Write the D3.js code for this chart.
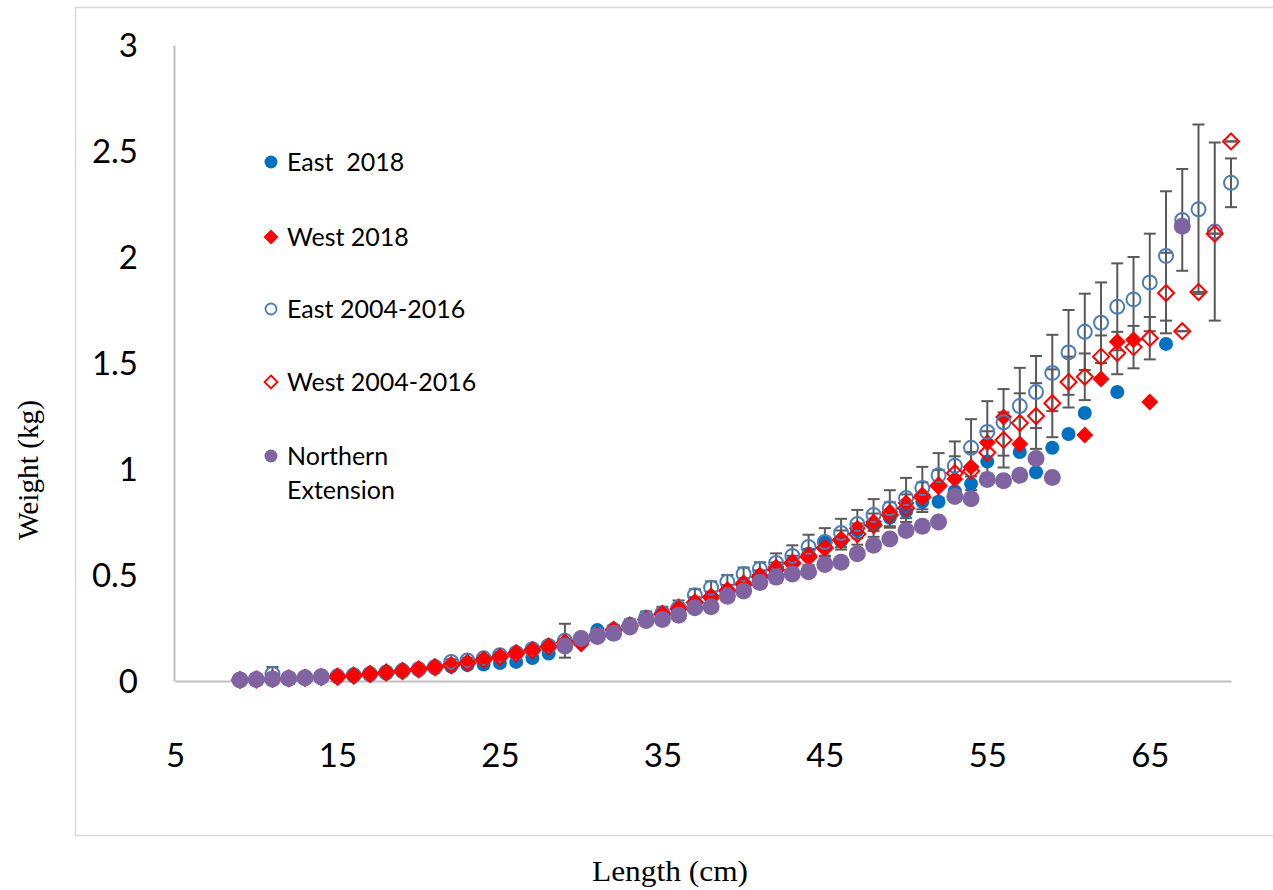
<!DOCTYPE html>
<html>
<head>
<meta charset="utf-8">
<script src="https://cdn.jsdelivr.net/npm/d3@7"></script>
<style>
  body { margin: 0; background: #fff; }
  svg { display: block; }
</style>
</head>
<body>
<div class="wrapper"></div>
<script>
// fork length (cm), one entry per centimetre 9..70
const lengths = [9,
  10, 11, 12, 13, 14, 15, 16, 17, 18, 19,
  20, 21, 22, 23, 24, 25, 26, 27, 28, 29,
  30, 31, 32, 33, 34, 35, 36, 37, 38, 39,
  40, 41, 42, 43, 44, 45, 46, 47, 48, 49,
  50, 51, 52, 53, 54, 55, 56, 57, 58, 59,
  60, 61, 62, 63, 64, 65, 66, 67, 68, 69,
  70];

const east2018 = [0.005,
  0.007, 0.01, 0.012, 0.015, 0.018, 0.022, 0.026, 0.032, 0.038, 0.045,
  0.052, 0.06, 0.068, 0.075, 0.078, 0.085, 0.09, 0.108, 0.13, 0.17,
  0.19, 0.24, 0.235, 0.26, 0.29, 0.31, 0.34, 0.37, 0.39, 0.42,
  0.45, 0.49, 0.52, 0.56, 0.6, 0.655, 0.66, 0.71, 0.74, 0.77,
  0.80, 0.845, 0.845, 0.895, 0.93, 1.035, null, 1.08, 0.985, 1.10,
  1.165, 1.264, null, 1.363, null, null, 1.59, null, null, null,
  null];

const west2018 = [0.005,
  0.007, 0.01, 0.012, 0.015, 0.018, 0.02, 0.025, 0.033, 0.04, 0.047,
  0.055, 0.065, 0.071, 0.085, 0.103, 0.115, 0.135, 0.147, 0.165, 0.185,
  0.175, 0.217, 0.245, 0.265, 0.29, 0.32, 0.35, 0.373, 0.40, 0.43,
  0.463, 0.50, 0.538, 0.56, 0.594, 0.627, 0.665, 0.72, 0.75, 0.797,
  0.84, 0.877, 0.925, 0.953, 1.01, 1.125, 1.245, 1.118, null, null,
  null, 1.16, 1.425, 1.6, 1.61, 1.316, null, null, null, null,
  null];

const east0416 = [0.005,
  0.008, 0.033, 0.012, 0.015, 0.018, 0.022, 0.027, 0.033, 0.04, 0.048,
  0.056, 0.066, 0.09, 0.097, 0.107, 0.122, 0.132, 0.15, 0.165, 0.19,
  0.2, 0.22, 0.24, 0.265, 0.3, 0.32, 0.345, 0.405, 0.44, 0.468,
  0.505, 0.528, 0.557, 0.59, 0.632, 0.656, 0.698, 0.74, 0.783, 0.815,
  0.863, 0.91, 0.97, 1.015, 1.10, 1.175, 1.22, 1.297, 1.363, 1.453,
  1.55, 1.647, 1.69, 1.765, 1.80, 1.88, 2.005, 2.175, 2.225, 2.12,
  2.35];

const east0416Err = [0.003,
  0.004, 0.033, 0.005, 0.005, 0.006, 0.006, 0.007, 0.008, 0.008, 0.01,
  0.01, 0.012, 0.012, 0.013, 0.014, 0.015, 0.016, 0.018, 0.02, 0.08,
  0.02, 0.022, 0.024, 0.025, 0.028, 0.03, 0.035, 0.028, 0.03, 0.032,
  0.03, 0.032, 0.045, 0.05, 0.058, 0.065, 0.067, 0.067, 0.075, 0.085,
  0.095, 0.10, 0.105, 0.115, 0.135, 0.145, 0.157, 0.18, 0.17, 0.18,
  0.2, 0.18, 0.19, 0.205, 0.2, 0.23, 0.305, 0.24, 0.40, 0.42,
  0.115];

const west0416 = [0.005,
  0.007, 0.01, 0.012, 0.015, 0.018, 0.02, 0.025, 0.033, 0.04, 0.047,
  0.055, 0.065, 0.075, 0.085, 0.1, 0.113, 0.13, 0.145, 0.162, 0.18,
  0.19, 0.215, 0.24, 0.26, 0.29, 0.315, 0.34, 0.37, 0.395, 0.425,
  0.455, 0.49, 0.525, 0.555, 0.585, 0.627, 0.665, 0.693, 0.735, 0.783,
  0.815, 0.867, 0.92, 0.98, 0.99, 1.078, 1.137, 1.217, 1.25, 1.31,
  1.41, 1.435, 1.53, 1.547, 1.575, 1.617, 1.83, 1.65, 1.835, 2.11,
  2.545];

const west0416Err = [0.002,
  0.003, 0.003, 0.004, 0.004, 0.005, 0.005, 0.006, 0.006, 0.007, 0.008,
  0.008, 0.009, 0.01, 0.01, 0.011, 0.012, 0.013, 0.014, 0.015, 0.016,
  0.017, 0.018, 0.019, 0.02, 0.02, 0.022, 0.024, 0.025, 0.027, 0.028,
  0.03, 0.032, 0.034, 0.036, 0.038, 0.04, 0.045, 0.05, 0.055, 0.06,
  0.065, 0.07, 0.075, 0.08, 0.09, 0.1, 0.13, 0.14, 0.155, 0.16,
  0.12, 0.11, 0.1, 0.1, 0.1, 0.1, 0.19, 0, 0, 0,
  0];

const northern = [0.005,
  0.007, 0.01, 0.012, 0.015, 0.02, null, null, null, null, null,
  null, null, null, null, null, null, null, null, null, 0.165,
  0.2, 0.21, 0.225, 0.255, 0.285, 0.29, 0.31, 0.345, 0.35, 0.40,
  0.425, 0.465, 0.49, 0.505, 0.515, 0.55, 0.56, 0.6, 0.64, 0.67,
  0.71, 0.73, 0.75, 0.87, 0.86, 0.95, 0.945, 0.97, 1.05, 0.96,
  null, null, null, null, null, null, null, 2.145, null, null,
  null];

const xTicks = [5, 15, 25, 35, 45, 55, 65];
const yTicks = [0, 0.5, 1, 1.5, 2, 2.5, 3];

const width = 1273, height = 890;

const svg = d3.select(".wrapper")
  .append("svg")
  .attr("width", width)
  .attr("height", height);

// chart area border
svg.append("rect")
  .attr("x", 75.5).attr("y", 7.5)
  .attr("width", 1220).attr("height", 828)
  .attr("fill", "none")
  .attr("stroke", "#d9d9d9")
  .attr("stroke-width", 1.5);

const x = d3.scaleLinear().domain([5, 70]).range([175, 1231]);
const y = d3.scaleLinear().domain([0, 3]).range([681, 45]);

const tickFont = "Lato, 'Open Sans', sans-serif";

svg.append("g")
  .attr("transform", "translate(0,681)")
  .call(d3.axisBottom(x).tickValues(xTicks).tickSize(0).tickFormat(d3.format("d")))
  .call(g => g.select(".domain").attr("stroke", "#bfbfbf").attr("stroke-width", 2))
  .call(g => g.selectAll("text")
    .attr("y", 86).attr("dy", null)
    .attr("fill", "#000")
    .style("font-family", tickFont)
    .style("font-size", "33px"));

svg.append("g")
  .attr("transform", "translate(174,0)")
  .call(d3.axisLeft(y).tickValues(yTicks).tickSize(0).tickFormat(d => String(d)))
  .call(g => g.select(".domain").attr("stroke", "#bfbfbf").attr("stroke-width", 2))
  .call(g => g.selectAll("text")
    .attr("x", -36).attr("dy", "0.36em")
    .attr("fill", "#000")
    .style("font-family", tickFont)
    .style("font-size", "33px"));

// axis titles
svg.append("text")
  .attr("transform", "translate(38,470) rotate(-90)")
  .attr("text-anchor", "middle")
  .attr("textLength", 140)
  .attr("lengthAdjust", "spacingAndGlyphs")
  .style("font-family", "'Liberation Serif', 'Times New Roman', serif")
  .style("font-size", "30px")
  .text("Weight (kg)");

svg.append("text")
  .attr("x", 670).attr("y", 881)
  .attr("text-anchor", "middle")
  .attr("textLength", 156)
  .attr("lengthAdjust", "spacingAndGlyphs")
  .style("font-family", "'Liberation Serif', 'Times New Roman', serif")
  .style("font-size", "30px")
  .text("Length (cm)");

const diamond = s => "M0," + (-s) + "L" + s + ",0L0," + s + "L" + (-s) + ",0Z";

const rows = (vals, errs) => lengths
  .map((L, i) => ({ L: L, v: vals[i], e: errs ? errs[i] : 0 }))
  .filter(d => d.v != null);

//////////////////////////
////// ERROR BARS ////////
//////////////////////////

const bars = svg.append("g").attr("stroke", "#595959").attr("stroke-width", 2);

[[east0416, east0416Err], [west0416, west0416Err]].forEach(([vals, errs]) => {
  const d = rows(vals, errs);
  bars.selectAll(null).data(d).enter().append("line")
    .attr("x1", r => x(r.L)).attr("x2", r => x(r.L))
    .attr("y1", r => y(r.v - r.e)).attr("y2", r => y(r.v + r.e));
  bars.selectAll(null).data(d).enter().append("line")
    .attr("x1", r => x(r.L) - 6).attr("x2", r => x(r.L) + 6)
    .attr("y1", r => y(r.v + r.e)).attr("y2", r => y(r.v + r.e));
  bars.selectAll(null).data(d).enter().append("line")
    .attr("x1", r => x(r.L) - 6).attr("x2", r => x(r.L) + 6)
    .attr("y1", r => y(r.v - r.e)).attr("y2", r => y(r.v - r.e));
});

//////////////////////////
//////// MARKERS /////////
//////////////////////////

svg.append("g").selectAll("circle")
  .data(rows(east2018)).enter().append("circle")
  .attr("cx", d => x(d.L)).attr("cy", d => y(d.v))
  .attr("r", 7).attr("fill", "#0070c0");

svg.append("g").selectAll("path")
  .data(rows(west2018)).enter().append("path")
  .attr("d", diamond(8.5))
  .attr("transform", d => "translate(" + x(d.L) + "," + y(d.v) + ")")
  .attr("fill", "#ff0000");

svg.append("g").selectAll("circle")
  .data(rows(east0416)).enter().append("circle")
  .attr("cx", d => x(d.L)).attr("cy", d => y(d.v))
  .attr("r", 7).attr("fill", "none")
  .attr("stroke", "#4a7ebb").attr("stroke-width", 2);

svg.append("g").selectAll("path")
  .data(rows(west0416)).enter().append("path")
  .attr("d", diamond(8))
  .attr("transform", d => "translate(" + x(d.L) + "," + y(d.v) + ")")
  .attr("fill", "none")
  .attr("stroke", "#ff0000").attr("stroke-width", 2);

svg.append("g").selectAll("circle")
  .data(rows(northern)).enter().append("circle")
  .attr("cx", d => x(d.L)).attr("cy", d => y(d.v))
  .attr("r", 8.5).attr("fill", "#8064a2");

//////////////////////////
//////// LEGEND //////////
//////////////////////////

const legendFont = "Lato, 'Open Sans', sans-serif";
const legend = svg.append("g").attr("class", "legend");
const items = [
  { label: ["East  2018"], y: 162, kind: "dot", color: "#0070c0" },
  { label: ["West 2018"], y: 237, kind: "dia", color: "#ff0000" },
  { label: ["East 2004-2016"], y: 309, kind: "ring", color: "#4a7ebb" },
  { label: ["West 2004-2016"], y: 382, kind: "odia", color: "#ff0000" },
  { label: ["Northern", "Extension"], y: 456, kind: "dot", color: "#8064a2" }
];

items.forEach(it => {
  if (it.kind === "dot") {
    legend.append("circle").attr("cx", 271).attr("cy", it.y).attr("r", 6.5).attr("fill", it.color);
  } else if (it.kind === "ring") {
    legend.append("circle").attr("cx", 271).attr("cy", it.y).attr("r", 5.5)
      .attr("fill", "none").attr("stroke", it.color).attr("stroke-width", 1.8);
  } else if (it.kind === "dia") {
    legend.append("path").attr("d", diamond(7.5))
      .attr("transform", "translate(271," + it.y + ")").attr("fill", it.color);
  } else {
    legend.append("path").attr("d", diamond(6.5))
      .attr("transform", "translate(271," + it.y + ")")
      .attr("fill", "none").attr("stroke", it.color).attr("stroke-width", 1.8);
  }
  it.label.forEach((t, k) => {
    legend.append("text")
      .attr("x", 287).attr("y", it.y + 9 + k * 34)
      .style("font-family", legendFont)
      .style("font-size", "25px")
      .style("white-space", "pre")
      .attr("fill", "#000")
      .text(t);
  });
});
</script>
</body>
</html>
